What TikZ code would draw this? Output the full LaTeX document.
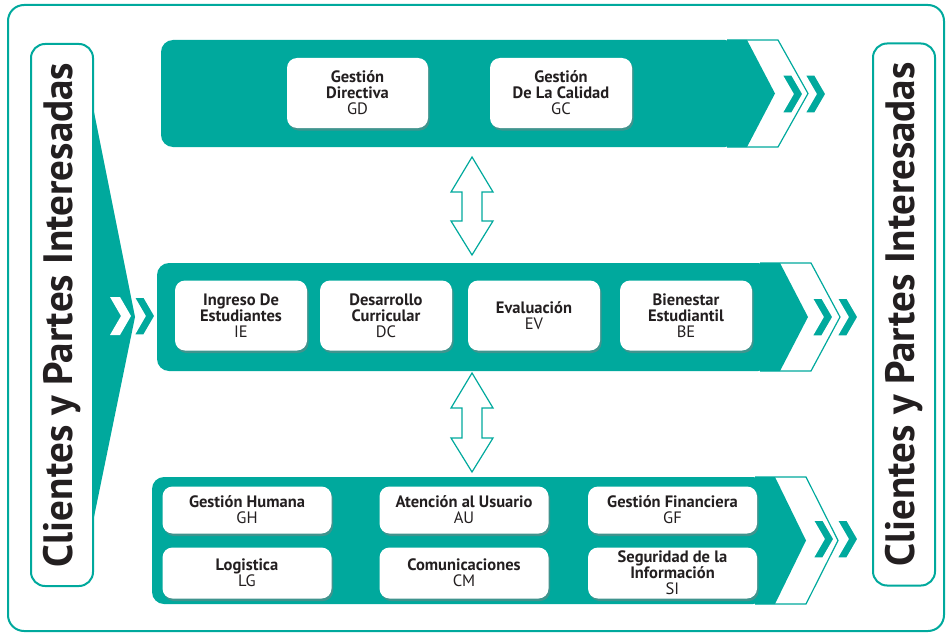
\documentclass[tikz,border=0pt]{standalone}
\usepackage{fontspec}
\setmainfont{PT Sans}
\usetikzlibrary{shadows}
\definecolor{verde}{HTML}{00A99D}
\definecolor{texto}{HTML}{231F20}

\begin{document}
\begin{tikzpicture}[x=1pt, y=-1pt,
	proceso/.style={fill=white, rounded corners=10pt, align=center, text=texto, inner sep=0pt,
		font=\bfseries\fontsize{16.5}{16}\selectfont,
		drop shadow={opacity=0.5, shadow xshift=1.5pt, shadow yshift=-2.5pt}},
	alto/.style={proceso, minimum width=#1, minimum height=70pt},
	bajo/.style={proceso, minimum width=169pt, minimum height=#1},
	lateral/.style={draw=verde, line width=2pt, fill=white, rounded corners=14pt, rotate=90,
		minimum width=542pt, minimum height=62pt, inner sep=0pt, text=texto,
		font=\bfseries\fontsize{41}{41}\selectfont}]
		\useasboundingbox (0,0) rectangle (948,634);
		\draw[verde, line width=2pt, rounded corners=16pt] (8,5) rectangle (944,631);
		% cuna izquierda
		\fill[verde] (86,72) -- (135,317) -- (86,556) -- cycle;
		% bandas
		\foreach \t/\b/\l/\r/\p/\o in {40/147/161/747/775/808, 263/371/157/780/808/840, 477/604/152/775/806/838} {
			\draw[verde, line width=1.2pt] (\r-20,\t) -- (\r+31,\t) -- (\o,{(\t+\b)/2}) -- (\r+31,\b) -- (\r-20,\b);
			\fill[verde, rounded corners=12pt] (\l,\t) rectangle (\r-10,\b);
			\fill[verde] (\r-20,\t) -- (\r,\t) -- (\p,{(\t+\b)/2}) -- (\r,\b) -- (\r-20,\b) -- cycle;
		}
		% chevrones
		\fill[white] (110,297) -- (120,297) -- (131,316) -- (120,335) -- (110,335) -- (121,316) -- cycle;
		\foreach \x/\y in {134/316, 782/94, 805/94, 812/317, 837/317, 813/539, 837/539}
			\filldraw[fill=verde, draw=white, line width=1.5pt] (\x,\y-19) -- (\x+10,\y-19) -- (\x+21,\y) -- (\x+10,\y+19) -- (\x,\y+19) -- (\x+11,\y) -- cycle;
		% flechas dobles
		\foreach \a/\b in {157/255, 373/472}
			\draw[verde, fill=white, line width=1.2pt] (472,\a) -- (493,\a+35) -- (482,\a+35) -- (482,\b-34) -- (493,\b-34) -- (472,\b) -- (451,\b-34) -- (462,\b-34) -- (462,\a+35) -- (451,\a+35) -- cycle;
		% laterales
		\node[lateral] (izq) at (62,315) {Clientes y Partes Interesadas};
		\node[lateral] (der) at (904,314.5) {Clientes y Partes Interesadas};
		% procesos
		\node[alto=141pt] (gd) at (357.5,93) {Gestión\\Directiva\\{\mdseries GD}};
		\node[alto=142pt] (gc) at (561,93) {Gestión\\De La Calidad\\{\mdseries GC}};
		\node[alto=132pt] (ie) at (241,315.5) {Ingreso De\\Estudiantes\\{\mdseries IE}};
		\node[alto=132pt] (dc) at (386,315.5) {Desarrollo\\Curricular\\{\mdseries DC}};
		\node[alto=132pt] (ev) at (534,315.5) {Evaluación\\{\mdseries EV}};
		\node[alto=132pt] (be) at (686,315.5) {Bienestar\\Estudiantil\\{\mdseries BE}};
		\node[bajo=47pt] (gh) at (247,510) {Gestión Humana\\{\mdseries GH}};
		\node[bajo=47pt] (au) at (464,510) {Atención al Usuario\\{\mdseries AU}};
		\node[bajo=47pt] (gf) at (672.5,510) {Gestión Financiera\\{\mdseries GF}};
		\node[bajo=51pt] (lg) at (247,573) {Logistica\\{\mdseries LG}};
		\node[bajo=51pt] (cm) at (464,573) {Comunicaciones\\{\mdseries CM}};
		\node[bajo=51pt] (si) at (672.5,573) {Seguridad de la\\Información\\{\mdseries SI}};
\end{tikzpicture}
\end{document}
